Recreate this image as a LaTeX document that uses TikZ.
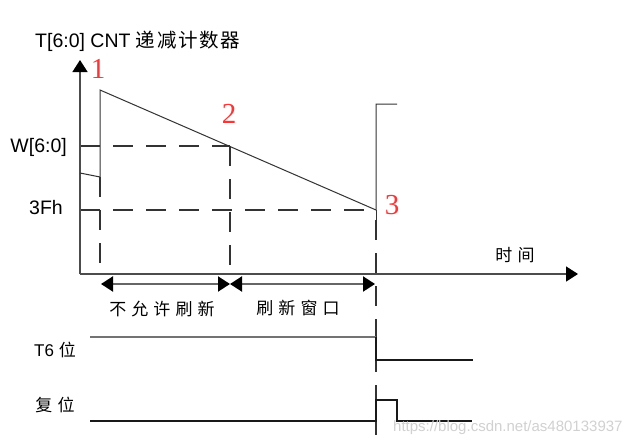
\documentclass[tikz,border=0pt]{standalone}
\usepackage{fontspec}
\setmainfont{Liberation Sans}
\newfontfamily\cjk{Noto Sans CJK SC}
\newfontfamily\numfont{Liberation Serif}
\usetikzlibrary{arrows.meta}
\tikzset{
  tip/.tip={Triangle[length=12pt,width=15pt,color=black]},
  axisline/.style={draw=black!70, line width=1.5pt, -tip},
  dashline/.style={draw=black!80, line width=1.2pt, dash pattern=on 20pt off 13pt},
  curveline/.style={draw=black!80, line width=1pt},
  spanline/.style={draw=black!60, line width=2pt, tip-tip},
  lbl/.style={font=\fontsize{17}{17}\selectfont, inner sep=0pt},
  biglbl/.style={font=\fontsize{19.5}{19.5}\selectfont, inner sep=0pt},
  cjklbl/.style={font=\cjk\fontsize{17}{17}\selectfont\addfontfeature{LetterSpace=30}, inner sep=0pt},
  numlbl/.style={text=red!80, font=\numfont\fontsize{29}{29}\selectfont, inner sep=0pt},
  highline/.style={draw=black!55, line width=2pt},
  sigline/.style={draw=black!90, line width=1.3pt},
}
\begin{document}
\begin{tikzpicture}[x=1pt,y=-1pt]
\useasboundingbox (0,0) rectangle (644,447);
\fill[white] (0,0) rectangle (644,447);
% key points
\coordinate (O) at (80,274);
\coordinate (Ytop) at (80,60);
\coordinate (Xend) at (578,274);
\coordinate (A) at (80,173);
\coordinate (B) at (100,177);
\coordinate (C) at (100,90);
\coordinate (D) at (376,210);
\coordinate (E) at (376,104);
\coordinate (F) at (397,104);
\coordinate (Wl) at (80,146);
\coordinate (P2) at (230,146);
\coordinate (Hl) at (80,210);
\coordinate (Bb) at (100,274);
\coordinate (P2b) at (230,274);
\coordinate (Ds) at (376,220);
\coordinate (Db) at (376,435);
\coordinate (S1) at (101,284);
\coordinate (S2) at (230,284);
\coordinate (S3) at (375,284);
\coordinate (T1) at (90,337);
\coordinate (T2) at (376,337);
\coordinate (T3) at (376,360);
\coordinate (T4) at (473,360);
\coordinate (R1) at (90,421);
\coordinate (R2) at (376,421);
\coordinate (R3) at (376,400);
\coordinate (R4) at (397,400);
\coordinate (R5) at (397,421);
\coordinate (R6) at (472,421);
% dashed guides
\draw[dashline] (Wl) -- (P2);
\draw[dashline] (Hl) -- (D);
\draw[dashline] (B) -- (Bb);
\draw[dashline] (P2) -- (P2b);
\draw[dashline] (Ds) -- (Db);
% axes
\draw[axisline] (O) -- (Ytop);
\draw[axisline] (O) -- (Xend);
% counter
\draw[curveline] (A) -- (B) -- (C) -- (D) -- (E) -- (F);
\draw[curveline] (D) -- (Ds);
% spans
\draw[spanline] (S1) -- (S2);
\draw[spanline] (S2) -- (S3);
% signals
\draw[highline] (T1) -- (T2);
\draw[sigline] (T2) -- (T3) -- (T4);
\draw[sigline] (R1) -- (R2) -- (R3) -- (R4) -- (R5) -- (R6);
% labels
\node[biglbl, anchor=west] (title) at (35,41) {T[6:0] CNT {\cjk\addfontfeature{LetterSpace=8}递减计数器}};
\node[biglbl, anchor=east] (wlab) at (67,147) {W[6:0]};
\node[biglbl, anchor=east] (hlab) at (63,208) {3Fh};
\node[cjklbl] (time) at (515,255) {时间};
\node[cjklbl] (nref) at (162,309) {不允许刷新};
\node[cjklbl] (wref) at (298,308) {刷新窗口};
\node[lbl] (t6) at (55,350) {T6 {\cjk 位}};
\node[cjklbl] (rst) at (55,405) {复位};
\node[numlbl] (n1) at (98,69) {1};
\node[numlbl] (n2) at (229,114) {2};
\node[numlbl] (n3) at (392,205) {3};
\node[font=\fontsize{15}{15}\selectfont, text=black!18, anchor=west, inner sep=0pt] (wm) at (393,428) {https://blog.csdn.net/as480133937};
\end{tikzpicture}
\end{document}
